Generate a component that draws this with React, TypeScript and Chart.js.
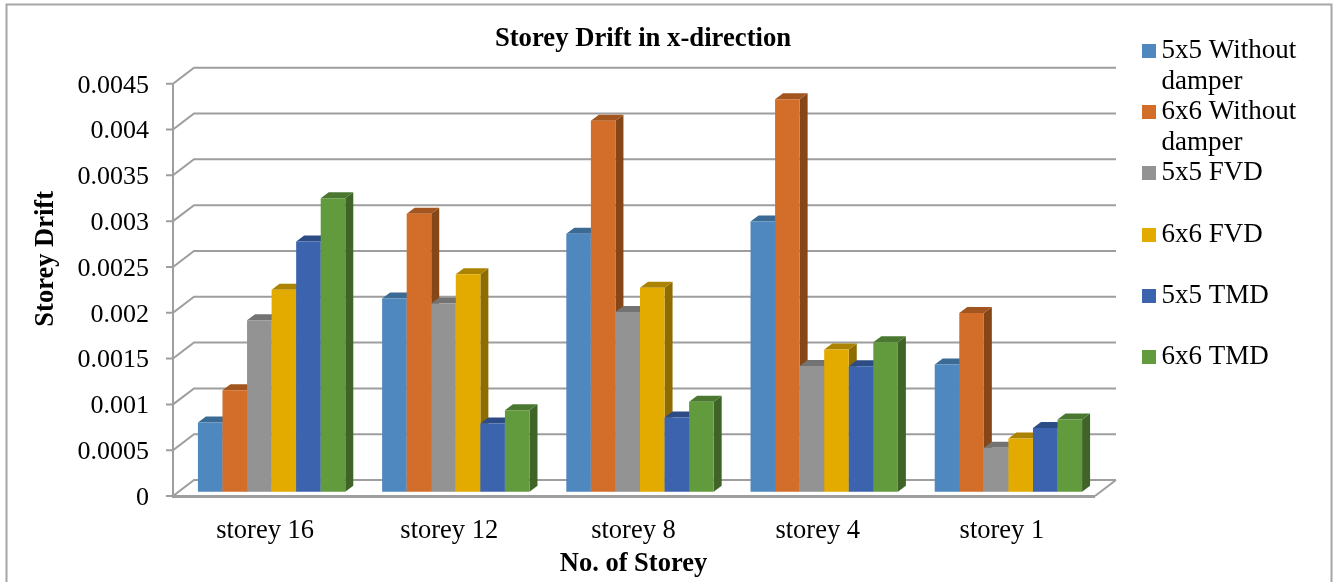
import React, { useEffect, useRef } from "react";
import { Chart, Scale, registerables } from "chart.js";

Chart.register(...registerables);

const categories = ["storey 16", "storey 12", "storey 8", "storey 4", "storey 1"];
const seriesNames = ["5x5 Without damper", "6x6 Without damper", "5x5 FVD", "6x6 FVD", "5x5 TMD", "6x6 TMD"];
const legendLines = [
  ["5x5 Without", "damper"],
  ["6x6 Without", "damper"],
  ["5x5 FVD", ""],
  ["6x6 FVD", ""],
  ["5x5 TMD", ""],
  ["6x6 TMD", ""],
];

const without5 = [0.000756, 0.00211, 0.002816, 0.00295, 0.001388];
const without6 = [0.001108, 0.003033, 0.00405, 0.004282, 0.00195];
const fvd5 = [0.001871, 0.002053, 0.001961, 0.001373, 0.000479];
const fvd6 = [0.002205, 0.002372, 0.002227, 0.001552, 0.000582];
const tmd5 = [0.002732, 0.000745, 0.000811, 0.00137, 0.000694];
const tmd6 = [0.003203, 0.00089, 0.000981, 0.001631, 0.000789];
const seriesValues = [without5, without6, fvd5, fvd6, tmd5, tmd6];

const frontColors = ["#4f88be", "#d36d2a", "#939393", "#e3ab00", "#3c64ae", "#629a3e"];
const topColors = ["#3b6a94", "#a2551f", "#737373", "#ac8300", "#2d4c85", "#4a7830"];
const sideColors = ["#33597c", "#864718", "#636363", "#8e6c00", "#26416f", "#3f6427"];

const FONT = "'Liberation Serif'";
const GRID = "#9e9e9e";

// Depth of the back wall and of a single bar, as screen offsets.
const WALL_DX = 21;
const WALL_DY = 16;
const BAR_DX = 8;
const BAR_DY = 6;
const BAR_SHIFT_X = 6.5;
const BAR_SHIFT_Y = -4.3;

function swatch(color: string) {
  // The canvas is wider than the square so the key sits close to its text.
  const c = document.createElement("canvas");
  c.width = 30;
  c.height = 14;
  const g = c.getContext("2d")!;
  g.fillStyle = color;
  g.fillRect(16, 0, 14, 14);
  return c;
}

const box3d = {
  id: "box3d",
  beforeDraw(chart: any) {
    const { ctx } = chart;
    ctx.save();
    ctx.fillStyle = "#ffffff";
    ctx.fillRect(0, 0, chart.width, chart.height);
    ctx.strokeStyle = "#a6a6a6";
    ctx.lineWidth = 2;
    ctx.strokeRect(6.5, 4.5, 1325, 640);

    const { left, top, bottom } = chart.chartArea;
    const right = chart.chartArea.right + 1;
    const y = chart.scales.y;
    ctx.strokeStyle = GRID;
    ctx.lineWidth = 2;
    ctx.beginPath();
    y.ticks.forEach((t: any) => {
      const py = y.getPixelForValue(t.value);
      ctx.moveTo(left - 7, py);
      ctx.lineTo(left, py);
      ctx.lineTo(left + WALL_DX, py - WALL_DY);
      ctx.lineTo(right + WALL_DX, py - WALL_DY);
    });
    ctx.moveTo(left, top);
    ctx.lineTo(left, bottom);
    ctx.moveTo(right + WALL_DX, bottom - WALL_DY);
    ctx.lineTo(right, bottom);
    ctx.stroke();
    ctx.lineWidth = 3;
    ctx.beginPath();
    ctx.moveTo(left - 1, bottom + 0.5);
    ctx.lineTo(right, bottom + 0.5);
    ctx.stroke();
    ctx.restore();
  },
  beforeDatasetsDraw(chart: any) {
    // Bars go left to right so each one overlaps the side face of the one before it.
    const { ctx } = chart;
    ctx.save();
    ctx.translate(BAR_SHIFT_X, BAR_SHIFT_Y);
    categories.forEach((_, i) => {
      seriesValues.forEach((_s, d) => {
        const bar = chart.getDatasetMeta(d).data[i];
        const x0 = bar.x - bar.width / 2;
        const x1 = bar.x + bar.width / 2;
        const yt = bar.y;
        const yb = bar.base;
        ctx.fillStyle = sideColors[d];
        ctx.beginPath();
        ctx.moveTo(x1, yt);
        ctx.lineTo(x1 + BAR_DX, yt - BAR_DY);
        ctx.lineTo(x1 + BAR_DX, yb - BAR_DY);
        ctx.lineTo(x1, yb);
        ctx.closePath();
        ctx.fill();
        ctx.fillStyle = topColors[d];
        ctx.beginPath();
        ctx.moveTo(x0, yt);
        ctx.lineTo(x0 + BAR_DX, yt - BAR_DY);
        ctx.lineTo(x1 + BAR_DX, yt - BAR_DY);
        ctx.lineTo(x1, yt);
        ctx.closePath();
        ctx.fill();
        bar.draw(ctx);
      });
    });
    ctx.restore();
    return false;
  },
  afterLayout(chart: any) {
    // Title and legend sit at fixed spots rather than where the layout boxes land.
    const title = chart.titleBlock;
    title.left = 643 - 400;
    title.right = 643 + 400;
    title.top = 26;
    title.bottom = 52;
    const legend = chart.legend;
    legend.left = 1134;
    legend.right = 1330;
    legend.top = 37.5;
    legend.bottom = 575;
    const yScale = chart.scales.y;
    yScale.drawTitle = function () {
      const { top, bottom } = this;
      this.top = top - 31;
      this.bottom = bottom - 31;
      Scale.prototype.drawTitle.call(this);
      this.top = top;
      this.bottom = bottom;
    };
  },
};

export default function App() {
  const ref = useRef<HTMLCanvasElement>(null);

  useEffect(() => {
    const chart: any = new Chart(ref.current!, {
      type: "bar",
      data: {
        labels: categories,
        datasets: seriesNames.map((label, d) => ({
          label,
          data: seriesValues[d],
          backgroundColor: frontColors[d],
          borderWidth: 0,
          categoryPercentage: 0.8,
          barPercentage: 1,
        })),
      },
      options: {
        responsive: false,
        devicePixelRatio: 1,
        animation: false,
        layout: { padding: { left: 0, top: 57, right: 100, bottom: 0 } },
        scales: {
          x: {
            grid: { display: false },
            border: { display: false },
            ticks: {
              color: "#000000",
              font: { family: FONT, size: 26.5 },
              padding: 11,
              autoSkip: false,
              maxRotation: 0,
            },
            title: {
              display: true,
              text: "No. of Storey",
              color: "#000000",
              font: { family: FONT, size: 26.5, weight: "bold", lineHeight: 1 },
              padding: { top: 0, bottom: 5 },
            },
            afterFit(scale: any) {
              scale.height = 86;
            },
          },
          y: {
            min: 0,
            max: 0.0045,
            grid: { display: false },
            border: { display: false },
            ticks: {
              stepSize: 0.0005,
              color: "#000000",
              font: { family: FONT, size: 26 },
              padding: 16,
              labelOffset: 2,
              callback: (v: any) => String(Number(Number(v).toFixed(4))),
            },
            title: {
              display: true,
              text: "Storey Drift",
              color: "#000000",
              font: { family: FONT, size: 26.5, weight: "bold", lineHeight: 1 },
              padding: { top: 33, bottom: 0 },
            },
            afterFit(scale: any) {
              scale.width = 173;
            },
          },
        },
        plugins: {
          tooltip: { enabled: false },
          title: {
            display: true,
            text: "Storey Drift in x-direction",
            color: "#000000",
            font: { family: FONT, size: 26.7, weight: "bold", lineHeight: 1 },
            padding: 0,
          },
          legend: {
            position: "right",
            align: "start",
            labels: {
              color: "#000000",
              font: { family: FONT, size: 27, lineHeight: 1.133 },
              padding: 0,
              usePointStyle: true,
              pointStyleWidth: 14,
              boxHeight: 14,
              generateLabels: () =>
                seriesNames.map((_, d) => ({
                  text: legendLines[d],
                  fillStyle: frontColors[d],
                  strokeStyle: frontColors[d],
                  lineWidth: 0,
                  pointStyle: swatch(frontColors[d]),
                  datasetIndex: d,
                })),
            },
          },
        },
      },
      plugins: [box3d],
    });
    // The legend box takes part in layout; trim the padding so the plot ends where it should.
    chart.options.layout.padding.right = 1336 - 1094 - chart.legend.width;
    chart.update();
    return () => chart.destroy();
  }, []);

  return (
    <div style={{ position: "absolute", left: 0, top: 0, width: 1336, height: 582 }}>
      <canvas ref={ref} width={1336} height={582} style={{ display: "block" }} />
    </div>
  );
}
